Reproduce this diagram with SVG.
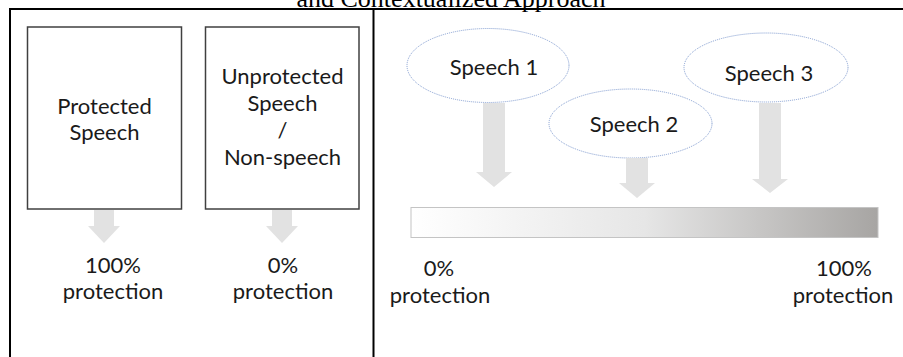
<svg xmlns="http://www.w3.org/2000/svg" width="903" height="357" viewBox="0 0 903 357">
  <style>
    .t { font-family: Lato, "Open Sans", "Liberation Sans", sans-serif; font-size: 22px; fill: #1a1a1a; text-anchor: middle; }
    .title { font-family: "Liberation Serif", "Times New Roman", serif; font-size: 26px; fill: #000; text-anchor: middle; }
    .box { fill: #fff; stroke: #404040; stroke-width: 1.5; }
    .oval { fill: #fff; stroke: #7f9bd0; stroke-width: 1; stroke-dasharray: 1 1; }
    .arrow { fill: #e2e2e2; stroke: none; }
    .rule { stroke: #000; stroke-width: 2; fill: none; }
  </style>
  <defs>
    <linearGradient id="scale" x1="0" y1="0" x2="1" y2="0">
      <stop offset="0" stop-color="#ffffff"/>
      <stop offset="0.5" stop-color="#e6e6e6"/>
      <stop offset="1" stop-color="#a7a5a3"/>
    </linearGradient>
  </defs>
  <rect width="903" height="357" fill="#fff"/>

  <text class="title" x="451" y="7">and Contextualized Approach</text>

  <g id="frame">
    <line class="rule" x1="9" y1="9" x2="903" y2="9"/>
    <line class="rule" x1="10" y1="8" x2="10" y2="357"/>
    <line class="rule" x1="373.5" y1="8" x2="373.5" y2="357"/>
  </g>

  <g id="protected-speech">
    <rect class="box" x="27.5" y="27" width="154" height="182"/>
    <text class="t" x="104.5" y="114">Protected</text>
    <text class="t" x="104.5" y="140">Speech</text>
  </g>

  <g id="unprotected-speech">
    <rect class="box" x="205.5" y="27" width="153.5" height="182"/>
    <text class="t" x="282.5" y="84">Unprotected</text>
    <text class="t" x="282.5" y="111">Speech</text>
    <text class="t" x="282.5" y="138">/</text>
    <text class="t" x="282.5" y="165">Non-speech</text>
  </g>

  <g id="label-100-left">
    <text class="t" x="113" y="273">100%</text>
    <text class="t" x="113" y="299">protection</text>
  </g>

  <g id="label-0-left">
    <text class="t" x="283" y="273">0%</text>
    <text class="t" x="283" y="299">protection</text>
  </g>

  <g id="speech-1">
    <ellipse class="oval" cx="488" cy="65.5" rx="81" ry="37"/>
    <text class="t" x="494" y="75">Speech 1</text>
  </g>

  <g id="speech-2">
    <ellipse class="oval" cx="630.5" cy="123.5" rx="81.5" ry="34.5"/>
    <text class="t" x="634" y="132">Speech 2</text>
  </g>

  <g id="speech-3">
    <ellipse class="oval" cx="766" cy="67.5" rx="82" ry="34.5"/>
    <text class="t" x="769" y="81">Speech 3</text>
  </g>

  <g id="protection-scale">
    <rect x="411" y="207.5" width="467" height="30" fill="url(#scale)" stroke="#c4c4c4" stroke-width="1"/>
  </g>

  <g id="label-0-right">
    <text class="t" x="439" y="276">0%</text>
    <text class="t" x="440" y="303">protection</text>
  </g>

  <g id="label-100-right">
    <text class="t" x="844" y="276">100%</text>
    <text class="t" x="843" y="303">protection</text>
  </g>

  <g id="connectors">
    <path class="arrow" d="M94,210 H114 V226 H120 L104,243 L88,226 H94 Z"/>
    <path class="arrow" d="M272,210 H292 V226 H298 L282,243 L266,226 H272 Z"/>
    <path class="arrow" d="M483,103 H505 V172 H512 L494,187 L476,172 H483 Z"/>
    <path class="arrow" d="M626,158 H648 V183 H655 L637,198 L619,183 H626 Z"/>
    <path class="arrow" d="M759,103 H781 V179 H788 L770,193 L752,179 H759 Z"/>
  </g>
</svg>
